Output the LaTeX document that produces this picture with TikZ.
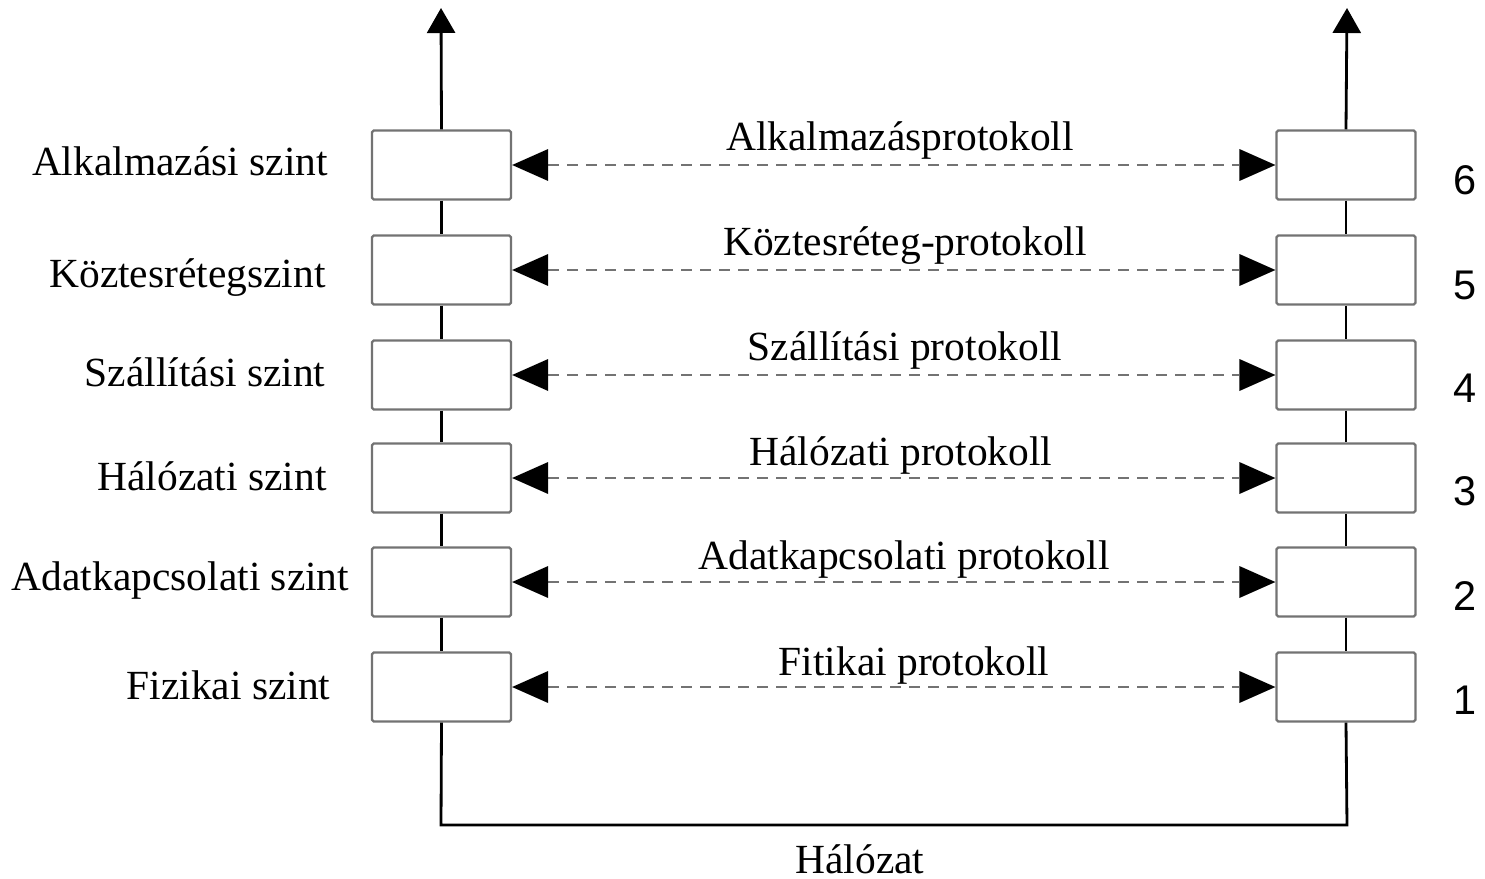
\documentclass[tikz,border=0pt]{standalone}
\usepackage{fontspec}
\setmainfont{Liberation Serif}
\newfontfamily\numfont{Liberation Sans}
\usetikzlibrary{arrows.meta}
\begin{document}
\begin{tikzpicture}[x=0.02cm,y=-0.02cm,
  layerbox/.style={draw=black!55,line width=1.3pt,rounded corners=1pt,fill=white,minimum width=2.78cm,minimum height=1.38cm,inner sep=0pt},
  stack/.style={line width=1.6pt,black},
  uparrow/.style={stack,-{Triangle[length=0.5cm,width=0.56cm]}},
  proto/.style={draw=black!55,line width=1.1pt,dash pattern=on 0.22cm off 0.16cm,
     {Triangle[length=0.72cm,width=0.64cm,color=black,line width=0pt]}-{Triangle[length=0.72cm,width=0.64cm,color=black,line width=0pt]}},
  txt/.style={font=\fontsize{23.6}{28}\selectfont,anchor=base,inner sep=0pt},
  num/.style={font=\numfont\fontsize{23.6}{28}\selectfont,anchor=center,inner sep=0pt}]
\useasboundingbox (0,0) rectangle (1485,879);
% coordinates for stack ends
\coordinate (LT) at (441,8);
\coordinate (RT) at (1347,8);
\coordinate (LB) at (441,825);
\coordinate (RB) at (1347,825);
% boxes
\foreach \n/\y in {6/165,5/270,4/375,3/478,2/582,1/687}{
  \node[layerbox] (L\n) at (441.5,\y) {};
  \node[layerbox] (R\n) at (1346,\y) {};
}
% stacks
\draw[uparrow] (L6.north) -- (LT);
\draw[uparrow] (R6.north) -- (RT);
\foreach \a/\b in {6/5,5/4,4/3,3/2,2/1}{
  \draw[stack] (L\a.south) -- (L\b.north);
  \draw[stack] (R\a.south) -- (R\b.north);
}
\draw[stack] (L1.south) -- (LB) -- (RB) -- (R1.south);
% protocol arrows
\foreach \n in {1,...,6}{
  \draw[proto] (L\n.east) -- (R\n.west);
}
% protocol labels
\node[txt] (p6) at (900,150) {Alkalmazásprotokoll};
\node[txt] (p5) at (905,255) {Köztesréteg-protokoll};
\node[txt] (p4) at (905,360) {Szállítási protokoll};
\node[txt] (p3) at (901,465) {Hálózati protokoll};
\node[txt] (p2) at (904,569) {Adatkapcsolati protokoll};
\node[txt] (p1) at (914,675) {Fitikai protokoll};
% left labels
\node[txt] (l6) at (180,175) {Alkalmazási szint};
\node[txt] (l5) at (187.5,287) {Köztesrétegszint};
\node[txt] (l4) at (205,386) {Szállítási szint};
\node[txt] (l3) at (212,490) {Hálózati szint};
\node[txt] (l2) at (180.5,590) {Adatkapcsolati szint};
\node[txt] (l1) at (228.5,699) {Fizikai szint};
% numbers
\node[num] (n6) at (1465,180) {6};
\node[num] (n5) at (1465,285) {5};
\node[num] (n4) at (1465,388) {4};
\node[num] (n3) at (1465,491) {3};
\node[num] (n2) at (1465,596) {2};
\node[num] (n1) at (1465,700) {1};
% network
\node[txt] (net) at (860,873) {Hálózat};
\end{tikzpicture}
\end{document}
